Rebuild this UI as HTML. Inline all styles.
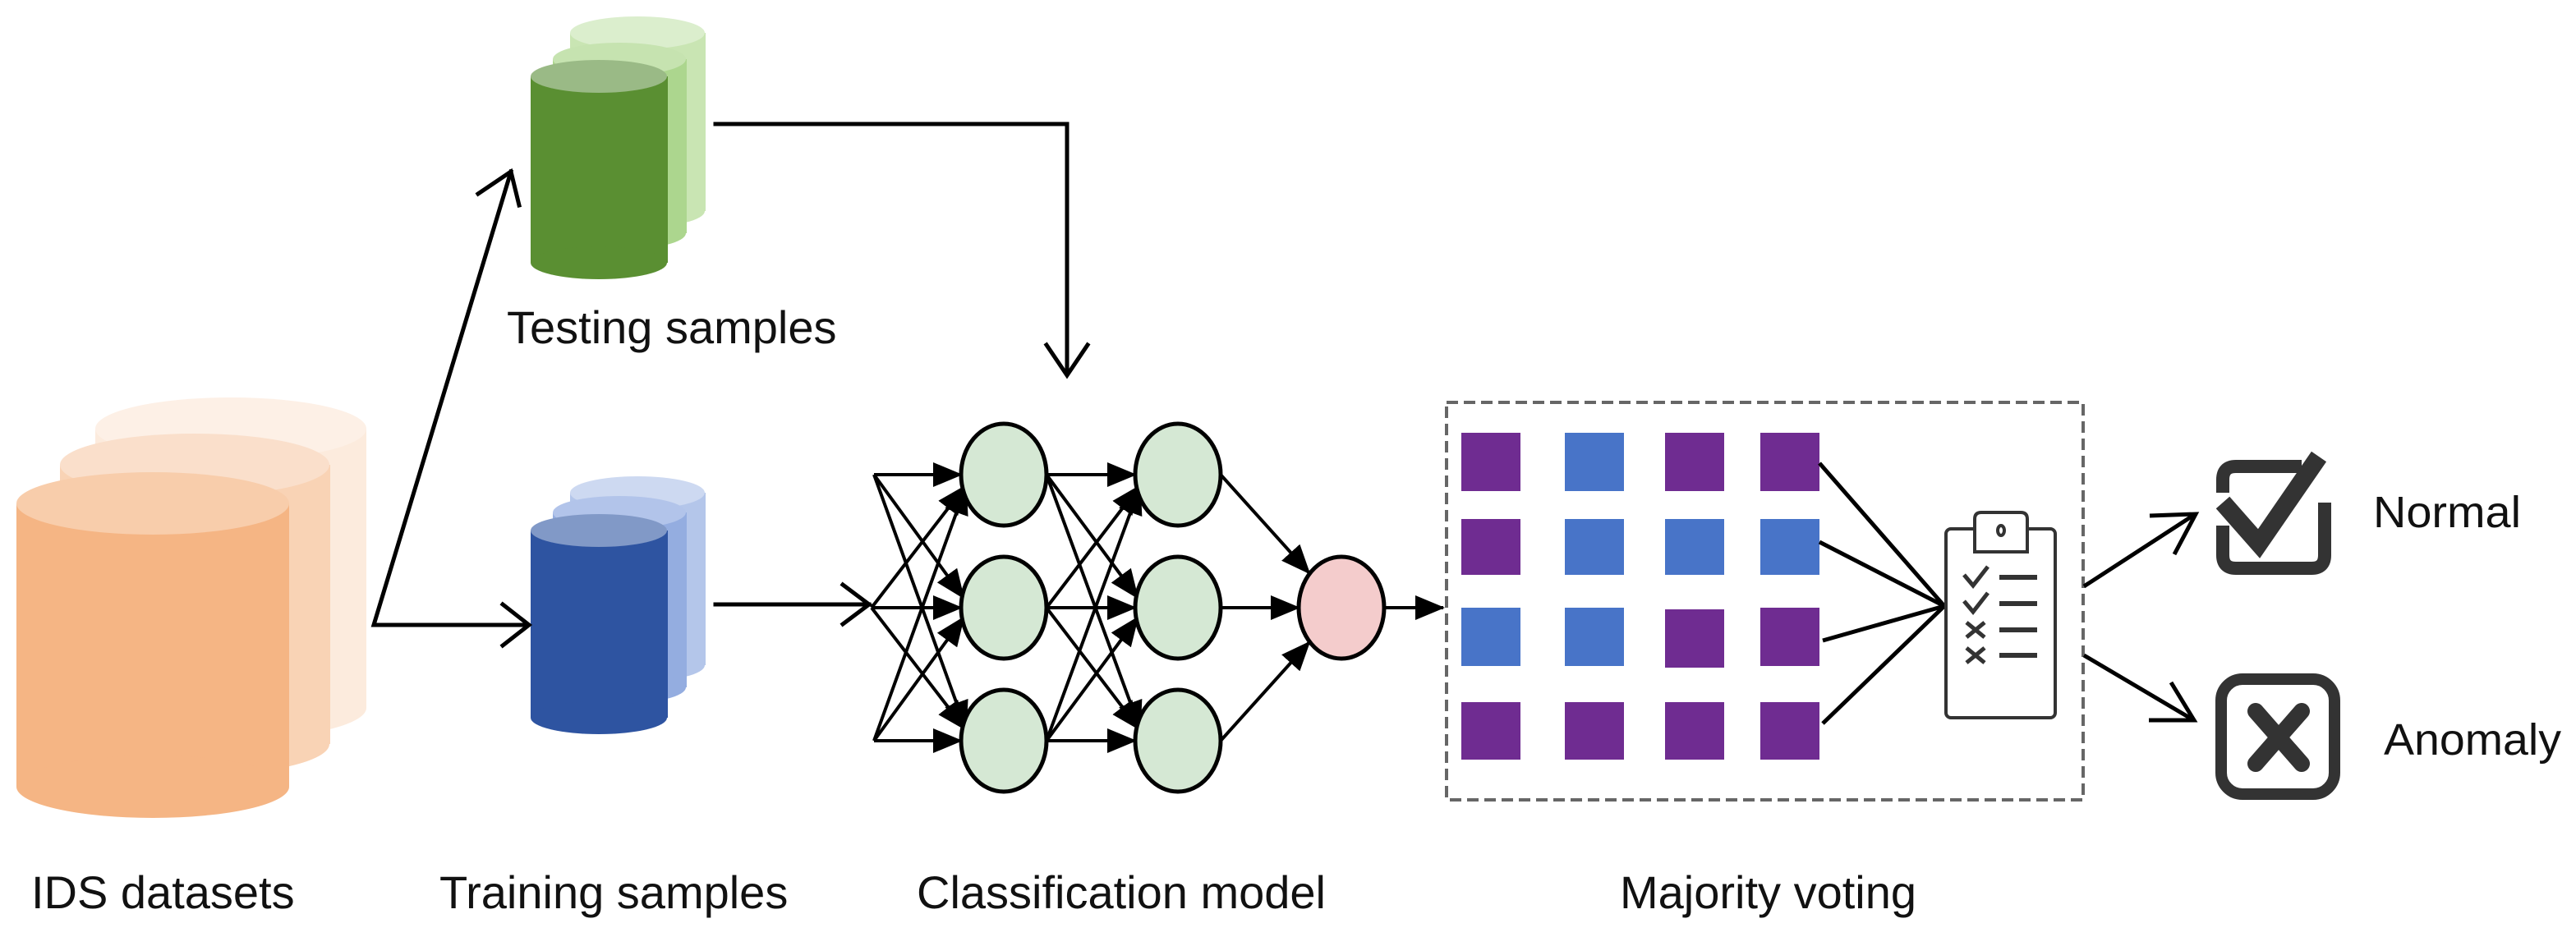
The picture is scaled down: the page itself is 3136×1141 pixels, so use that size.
<!DOCTYPE html>
<html><head><meta charset="utf-8"><style>
html,body{margin:0;padding:0;background:#fff;}
svg{display:block;}
text{font-family:"Liberation Sans",Arial,sans-serif;fill:#111;}
</style></head><body>
<svg width="3136" height="1141" viewBox="0 0 3136 1141" xmlns="http://www.w3.org/2000/svg">
<defs>
<marker id="fa" markerUnits="userSpaceOnUse" markerWidth="36" markerHeight="30" refX="34" refY="15" orient="auto">
<path d="M0,0 L36,15 L0,30 Z" fill="#000"/>
</marker>
</defs>

<g>
<rect x="116" y="522" width="330" height="340" fill="#fcebdd"/>
<ellipse cx="281" cy="862" rx="165" ry="38" fill="#fcebdd"/>
<ellipse cx="281" cy="522" rx="165" ry="38" fill="#fdf0e6"/>
<rect x="73" y="566" width="329" height="340" fill="#f9d3b5"/>
<ellipse cx="237" cy="906" rx="164" ry="38" fill="#f9d3b5"/>
<ellipse cx="237" cy="566" rx="164" ry="38" fill="#fadfcb"/>
<rect x="20" y="613" width="332" height="345" fill="#f5b584"/>
<ellipse cx="186" cy="958" rx="166" ry="38" fill="#f5b584"/>
<ellipse cx="186" cy="613" rx="166" ry="38" fill="#f8cdab"/>
</g>

<g>
<rect x="694" y="40" width="165" height="217" fill="#c9e5b3"/>
<ellipse cx="776" cy="257" rx="82" ry="20" fill="#c9e5b3"/>
<ellipse cx="776" cy="40" rx="82" ry="20" fill="#dbeecd"/>
<rect x="673" y="72" width="163" height="212" fill="#acd68e"/>
<ellipse cx="754" cy="284" rx="81" ry="20" fill="#acd68e"/>
<ellipse cx="754" cy="72" rx="81" ry="20" fill="#c6e3b0"/>
<rect x="646" y="93" width="167" height="227" fill="#5a8f32"/>
<ellipse cx="729" cy="320" rx="83" ry="20" fill="#5a8f32"/>
<ellipse cx="729" cy="93" rx="83" ry="20" fill="#9aba86"/>
</g>

<g>
<rect x="694" y="600" width="165" height="210" fill="#b4c6ea"/>
<ellipse cx="776" cy="810" rx="82" ry="20" fill="#b4c6ea"/>
<ellipse cx="776" cy="600" rx="82" ry="20" fill="#cdd9f1"/>
<rect x="673" y="624" width="163" height="213" fill="#94ade0"/>
<ellipse cx="754" cy="837" rx="81" ry="20" fill="#94ade0"/>
<ellipse cx="754" cy="624" rx="81" ry="20" fill="#b2c4ea"/>
<rect x="646" y="646" width="167" height="228" fill="#2e54a1"/>
<ellipse cx="729" cy="874" rx="83" ry="20" fill="#2e54a1"/>
<ellipse cx="729" cy="646" rx="83" ry="20" fill="#8199c7"/>
</g>

<g stroke="#000" stroke-width="5" fill="none" stroke-linecap="square">
<polyline points="622,209 455,761 642,761"/>
<polyline points="582,236 622,209 632,250"/>
<polyline points="612,736 644,761 612,786"/>
<polyline points="871,151 1299,151 1299,455"/>
<polyline points="1274,420 1299,457 1324,420"/>
<line x1="871" y1="736" x2="1058" y2="736"/>
<polyline points="1026,712 1058,736 1026,760"/>
</g>

<g stroke="#000" stroke-width="4" fill="none" marker-end="url(#fa)">
<line x1="1064" y1="578" x2="1170" y2="578"/>
<line x1="1064" y1="578" x2="1173" y2="728"/>
<line x1="1064" y1="578" x2="1176" y2="888"/>
<line x1="1061" y1="740" x2="1175" y2="592"/>
<line x1="1061" y1="740" x2="1170" y2="740"/>
<line x1="1061" y1="740" x2="1175" y2="888"/>
<line x1="1064" y1="902" x2="1176" y2="592"/>
<line x1="1064" y1="902" x2="1173" y2="752"/>
<line x1="1064" y1="902" x2="1170" y2="902"/>

<line x1="1274" y1="578" x2="1382" y2="578"/>
<line x1="1274" y1="578" x2="1385" y2="728"/>
<line x1="1274" y1="578" x2="1388" y2="888"/>
<line x1="1274" y1="740" x2="1387" y2="592"/>
<line x1="1274" y1="740" x2="1382" y2="740"/>
<line x1="1274" y1="740" x2="1387" y2="888"/>
<line x1="1274" y1="902" x2="1388" y2="592"/>
<line x1="1274" y1="902" x2="1385" y2="752"/>
<line x1="1274" y1="902" x2="1382" y2="902"/>

<line x1="1486" y1="578" x2="1594" y2="698"/>
<line x1="1486" y1="740" x2="1581" y2="740"/>
<line x1="1486" y1="902" x2="1594" y2="782"/>
<line x1="1685" y1="740" x2="1757" y2="740"/>
</g>
<g stroke="#000" stroke-width="5">
<ellipse cx="1222" cy="578" rx="52" ry="62" fill="#d5e8d4"/>
<ellipse cx="1222" cy="740" rx="52" ry="62" fill="#d5e8d4"/>
<ellipse cx="1222" cy="902" rx="52" ry="62" fill="#d5e8d4"/>
<ellipse cx="1434" cy="578" rx="52" ry="62" fill="#d5e8d4"/>
<ellipse cx="1434" cy="740" rx="52" ry="62" fill="#d5e8d4"/>
<ellipse cx="1434" cy="902" rx="52" ry="62" fill="#d5e8d4"/>
<ellipse cx="1633" cy="740" rx="52" ry="62" fill="#f4cccc"/>
</g>

<rect x="1761" y="490" width="775" height="484" fill="none" stroke="#666" stroke-width="4" stroke-dasharray="14,7"/>

<g>
<rect x="1779" y="527" width="72" height="71" fill="#6f2c91"/>
<rect x="1905" y="527" width="72" height="71" fill="#4874c8"/>
<rect x="2027" y="527" width="72" height="71" fill="#6f2c91"/>
<rect x="2143" y="527" width="72" height="71" fill="#6f2c91"/>
<rect x="1779" y="632" width="72" height="68" fill="#6f2c91"/>
<rect x="1905" y="632" width="72" height="68" fill="#4874c8"/>
<rect x="2027" y="632" width="72" height="68" fill="#4874c8"/>
<rect x="2143" y="632" width="72" height="68" fill="#4874c8"/>
<rect x="1779" y="740" width="72" height="71" fill="#4874c8"/>
<rect x="1905" y="740" width="72" height="71" fill="#4874c8"/>
<rect x="2027" y="742" width="72" height="71" fill="#6f2c91"/>
<rect x="2143" y="740" width="72" height="71" fill="#6f2c91"/>
<rect x="1779" y="855" width="72" height="70" fill="#6f2c91"/>
<rect x="1905" y="855" width="72" height="70" fill="#6f2c91"/>
<rect x="2027" y="855" width="72" height="70" fill="#6f2c91"/>
<rect x="2143" y="855" width="72" height="70" fill="#6f2c91"/>
</g>

<g stroke="#000" stroke-width="5">
<line x1="2215" y1="564" x2="2367" y2="738"/>
<line x1="2215" y1="660" x2="2367" y2="738"/>
<line x1="2219" y1="780" x2="2367" y2="738"/>
<line x1="2219" y1="881" x2="2367" y2="738"/>
</g>

<g stroke="#333" stroke-width="4" fill="#fff">
<rect x="2369" y="644" width="133" height="230" rx="6"/>
<path d="M2404,672 L2404,632 Q2404,624 2412,624 L2460,624 Q2468,624 2468,632 L2468,672 Z"/>
<ellipse cx="2436" cy="646" rx="4" ry="6"/>
</g>
<g stroke="#333" stroke-width="5" fill="none">
<polyline points="2391,700 2402,713 2420,690"/>
<polyline points="2391,732 2402,745 2420,722"/>
<path d="M2394,758 L2416,776 M2416,758 L2394,776"/>
<path d="M2394,789 L2416,807 M2416,789 L2394,807"/>
</g>
<g stroke="#333" stroke-width="6">
<line x1="2434" y1="703" x2="2480" y2="703"/>
<line x1="2434" y1="735" x2="2480" y2="735"/>
<line x1="2434" y1="767" x2="2480" y2="767"/>
<line x1="2434" y1="798" x2="2480" y2="798"/>
</g>

<g stroke="#000" stroke-width="5" fill="none">
<line x1="2537" y1="714" x2="2671" y2="627"/>
<polyline points="2617,628 2673,626 2647,675"/>
<line x1="2537" y1="798" x2="2669" y2="876"/>
<polyline points="2616,877 2671,877 2643,831"/>
</g>

<g fill="none" stroke="#333" stroke-linecap="butt">
<path d="M2802,568 L2722,568 Q2706,568 2706,584 L2706,600" stroke-width="16"/>
<path d="M2706,640 L2706,676 Q2706,692 2722,692 L2814,692 Q2830,692 2830,676 L2830,612" stroke-width="16"/>
<polyline points="2706,612 2750,662 2823,556" stroke-width="22" stroke-linejoin="miter"/>
</g>

<g fill="none" stroke="#333">
<rect x="2704" y="827" width="138" height="140" rx="26" stroke-width="14"/>
<path d="M2746,866 L2802,930 M2802,866 L2746,930" stroke-width="20" stroke-linecap="round"/>
</g>

<text x="2889" y="642" font-size="54" textLength="180" lengthAdjust="spacingAndGlyphs">Normal</text>
<text x="2902" y="919" font-size="54" textLength="216" lengthAdjust="spacingAndGlyphs">Anomaly</text>
<text x="617" y="418" font-size="56">Testing samples</text>
<text x="38" y="1106" font-size="56">IDS datasets</text>
<text x="535" y="1106" font-size="56">Training samples</text>
<text x="1116" y="1106" font-size="56">Classification model</text>
<text x="1972" y="1106" font-size="56">Majority voting</text>
</svg>
</body></html>
